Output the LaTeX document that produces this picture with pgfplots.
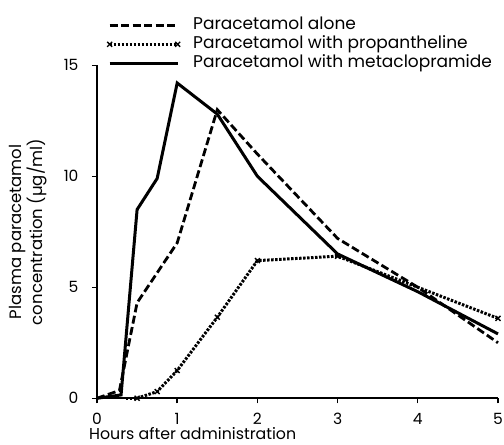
\documentclass[border=0pt]{standalone}
\usepackage{pgfplots}
\pgfplotsset{compat=1.18}
\usepackage{fontspec}
\setmainfont{Poppins}
\begin{document}
\begin{tikzpicture}
\begin{axis}[
  scale only axis,
  width=401pt, height=333pt,
  xmin=0, xmax=5, ymin=0, ymax=15,
  axis lines=left,
  axis line style={line width=1.6pt, -},
  xtick={0,1,2,3,4,5},
  ytick={0,5,10,15},
  tick align=outside,
  major tick length=5pt,
  tick style={line width=1.4pt, black},
  font=\fontsize{15.5}{17}\selectfont,
  /pgf/number format/assume math mode=true,
  yticklabel style={xshift=-10pt},
  xticklabel style={anchor=base, yshift=-21.5pt, inner sep=0pt},
  xlabel={Hours after administration},
  xlabel style={at={(axis description cs:0,0)}, anchor=base west, xshift=-8pt, yshift=-41pt,
    inner sep=0pt, font=\fontsize{15.8}{17}\selectfont},
  ylabel={Plasma paracetamol\\concentration (µg/ml)},
  ylabel style={at={(axis description cs:-0.117,0.5)}, anchor=south, rotate=0, align=center,
    font=\fontsize{16.5}{18}\selectfont},
  clip=false,
  legend style={at={(axis description cs:0.025,1.0)}, anchor=south west, yshift=-7pt, draw=none, fill=none,
    inner sep=0pt, font=\fontsize{17}{18}\selectfont, row sep=1.5pt, column sep=12pt,
    nodes={inner sep=1pt, text height=12pt, text depth=3.5pt}},
  legend cell align=left,
  legend image code/.code={\draw[#1] plot coordinates {(0pt,0pt)(68pt,0pt)};},
]
\addplot[black, line width=2.8pt, dash pattern=on 8pt off 3.5pt]
  coordinates {(0,0)(0.28,0.35)(0.5,4.3)(1,7)(1.5,13)(2,11)(3,7.2)(4,5)(5,2.5)};
\addlegendentry{Paracetamol alone}
\addplot[black, line width=3pt, dash pattern=on 2.5pt off 1.5pt, mark=x, mark size=3.5pt,
  mark options={solid, line width=1.4pt}]
  coordinates {(0.5,0)(0.75,0.3)(1,1.25)(1.5,3.65)(2,6.2)(3,6.4)(5,3.6)};
\addlegendentry{Paracetamol with propantheline}
\addplot[black, line width=3pt]
  coordinates {(0,0)(0.3,0.15)(0.5,8.5)(0.75,9.9)(1,14.2)(1.5,12.8)(2,10)(3,6.5)(4,4.8)(5,2.9)};
\addlegendentry{Paracetamol with metaclopramide}
\addplot[black, line width=3pt, dash pattern=on 2.5pt off 1.5pt, forget plot]
  coordinates {(0.36,0)(0.5,0)};
\path (axis description cs:-0.2419,1.196) rectangle (axis description cs:1.015,-0.138);
\end{axis}
\end{tikzpicture}
\end{document}
